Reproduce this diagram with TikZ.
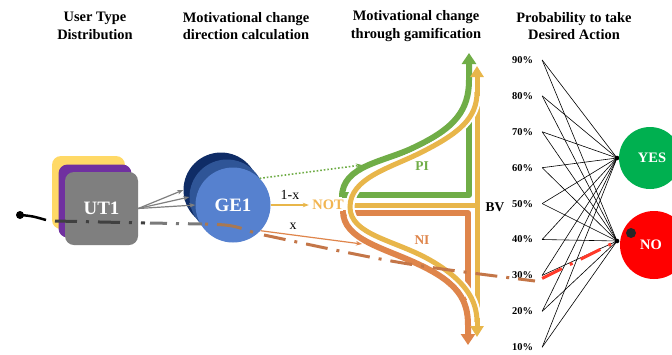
\documentclass[tikz,border=0pt]{standalone}
\usepackage{fontspec}
\setmainfont{Liberation Serif}
\usetikzlibrary{arrows.meta}
\definecolor{sqy}{HTML}{FFD966}
\definecolor{sqp}{HTML}{7030A0}
\definecolor{sqg}{HTML}{7F7F7F}
\definecolor{gea}{HTML}{0F2C66}
\definecolor{gem}{HTML}{2F5597}
\definecolor{gef}{HTML}{5681CF}
\definecolor{grn}{HTML}{70AD47}
\definecolor{ylc}{HTML}{E8B64A}
\definecolor{orc}{HTML}{DF854B}
\definecolor{notc}{HTML}{F2B551}
\definecolor{yesc}{HTML}{00B050}
\definecolor{noc}{HTML}{FF0000}
\definecolor{redd}{HTML}{FF3A2A}
\begin{document}
\begin{tikzpicture}[x=1bp,y=-1bp,
  title/.style={font=\bfseries\fontsize{14.5}{17.5}\selectfont,align=center},
  pct/.style={font=\bfseries\fontsize{10.5}{12}\selectfont,inner xsep=9bp,inner ysep=1bp},
  sq/.style={minimum size=73bp,rounded corners=9bp,inner sep=0pt},
  gec/.style={circle,minimum size=75bp,inner sep=0pt},
  bigtxt/.style={font=\bfseries\fontsize{19}{20}\selectfont,text=white},
  pn/.style={line width=0.6bp,black},
  dd/.style={line width=3bp,dash pattern=on 22bp off 9bp on 3bp off 9bp},
  bigtip/.style={-{Triangle[length=11bp,width=14bp]}},
  smalltip/.style={-{Stealth[length=6bp,width=4.5bp]}}]
\useasboundingbox (0,0) rectangle (672,354);
\clip (0,0) rectangle (672,354);
\fill[white] (0,0) rectangle (672,354);

% titles
\node[title] (t1) at (95,26) {User Type\\Distribution};
\node[title] (t2) at (246,26) {Motivational change\\direction calculation};
\node[title] (t3) at (416,26) {Motivational change\\through gamification};
\node[title] (t4) at (574,26) {Probability to take\\Desired Action};

% user type squares
\node[sq,fill=sqy] (uty) at (88.5,192.5) {};
\node[sq,fill=sqp] (utp) at (95,201) {};
\node[sq,fill=sqg,bigtxt] (ut1) at (101.5,208.5) {UT1};

% GE circles
\node[gec,fill=gea] (gea) at (221,190) {};
\node[gec,fill=gem] (gem) at (227,197) {};
\node[gec,fill=gef,bigtxt] (ge1) at (233,205) {GE1};

\draw[sqg,line width=1.2bp,smalltip] (ut1.east) -- (gea.west);
\draw[sqg,line width=1.2bp,smalltip] (ut1.east) -- (gem.west);
\draw[sqg,line width=1.2bp,smalltip] (ut1.east) -- (ge1.west);

% NOT label
\node[font=\bfseries\fontsize{14.5}{16}\selectfont,text=notc] (notn) at (328,205) {NOT};

% arrows from GE1
\coordinate (pitip) at (362,165);
\coordinate (nitip) at (362,244);
\draw[grn,dotted,line width=1.6bp,smalltip] (ge1.45) -- (pitip);
\draw[ylc,line width=1.4bp,smalltip] (ge1.east) -- (notn.west);
\draw[orc,line width=1.2bp,smalltip] (ge1.-43) -- (nitip);
\node[font=\fontsize{14}{16}\selectfont] (lx1) at (290,195) {1-x};
\node[font=\fontsize{14}{16}\selectfont] (lx) at (293,226) {x};

% green PI shape
\draw[grn,line width=6bp,line join=round] (469,120) -- (469,195) -- (342,195);
\draw[grn,line width=6bp,bigtip] (342,197) .. controls (342,165) and (385,162) .. (415,147)
   .. controls (455,128) and (469,110) .. (469,80) -- (469,53);
% orange NI shape
\draw[orc,line width=6bp,line join=round] (343,213) -- (468,213) -- (468,300);
\draw[orc,line width=6bp,bigtip] (343,211) .. controls (343,240) and (385,248) .. (420,265)
   .. controls (458,283) and (468,300) .. (468,325) -- (468,345);
% yellow BV shape
\draw[ylc,line width=5bp,{Triangle[length=11bp,width=13bp]}-{Triangle[length=11bp,width=13bp]}] (477,66) -- (477,337);
\draw[ylc,line width=5bp] (352,205) -- (477,205);
\draw[ylc,line width=5bp,preaction={draw=white,line width=9bp}]
   (477,92) .. controls (477,118) and (460,133) .. (420,153)
   .. controls (390,168) and (350,178) .. (350,207)
   .. controls (350,235) and (395,240) .. (430,260)
   .. controls (465,280) and (477,300) .. (477,322);
\draw[ylc,line width=5bp] (477,88) -- (477,96) (477,318) -- (477,326);

\node[text=grn,font=\bfseries\fontsize{13.5}{15}\selectfont] (pi) at (422,166) {PI};
\node[text=orc,font=\bfseries\fontsize{13.5}{15}\selectfont] (ni) at (422,240) {NI};
\node[font=\bfseries\fontsize{13.5}{15}\selectfont] (bv) at (495,207) {BV};

% percentages
\coordinate (yesj) at (617,158);
\coordinate (noj) at (617,241);
\foreach \v/\k in {90/0,80/1,70/2,60/3,50/4,40/5,30/6,20/7,10/8}{
  \node[pct] (p\v) at (522.5,60+35.9*\k) {\v\%};
  \draw[pn] (p\v.east) -- (yesj);
  \draw[pn] (p\v.east) -- (noj);
}
\fill (yesj) circle (2.3bp);
\fill (noj) circle (2.3bp);

% YES / NO
\node[circle,fill=yesc,minimum size=62bp,inner sep=0pt,font=\bfseries\fontsize{14.5}{16}\selectfont,text=white] (yes) at (650,158) {\hspace*{4bp}YES};
\node[circle,fill=noc,minimum size=68bp,inner sep=0pt,font=\bfseries\fontsize{14.5}{16}\selectfont,text=white] (no) at (654,245) {NO\hspace*{6bp}};
\fill[black!85] (631,233) circle (5bp);

% dash-dot path
\coordinate (dotc) at (20,215);
\coordinate (dstart) at (46,220);
\fill (dotc) circle (4bp);
\draw[line width=2.5bp] (dotc) .. controls (32,216) .. (dstart);
\draw[dd,black!75] (55,221) -- (145,223);
\draw[dd,black!52,dash phase=5bp] (150,223) -- (202,224);
\draw[line width=3bp,dash pattern=on 3bp off 9bp on 25bp off 9bp,color={rgb,255:red,168;green,120;blue,82}] (205,224) .. controls (232,225) .. (255,233);
\draw[dd,color={rgb,255:red,196;green,118;blue,72}] (264,235) .. controls (400,264) .. (535,281);
\draw[dd,redd] (p30.east) ++(0,3) -- (noj);
\end{tikzpicture}
\end{document}
